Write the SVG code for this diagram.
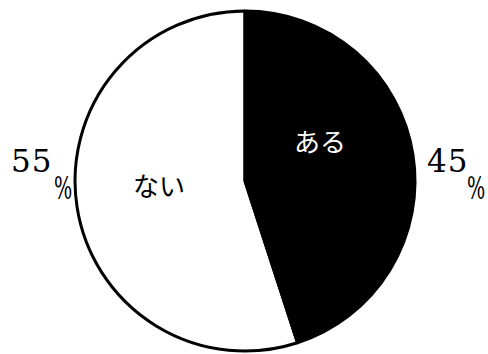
<svg xmlns="http://www.w3.org/2000/svg" width="488" height="354" viewBox="0 0 488 354">
<rect width="488" height="354" fill="#fff"/>
<g id="slice-nai">
<path d="M245,181 L245,11 A170,170 0 1 0 297.5,342.7 Z" fill="#fff" stroke="#000" stroke-width="3" stroke-linejoin="round"/>
<text x="159" y="196" text-anchor="middle" fill="#000" font-family="Noto Sans CJK JP, sans-serif" font-size="26">ない</text>
</g>
<g id="slice-aru">
<path d="M245,181 L245,11 A170,170 0 0 1 297.5,342.7 Z" fill="#000" stroke="#000" stroke-width="3" stroke-linejoin="round"/>
<text x="320" y="152" text-anchor="middle" fill="#fff" font-family="Noto Sans CJK JP, sans-serif" font-size="26">ある</text>
</g>
<g id="label-55">
<text x="11" y="172" font-family="DejaVu Serif, serif" font-size="31" letter-spacing="1">55</text>
<text x="0" y="0" font-family="DejaVu Serif, serif" font-size="32" transform="translate(54,199) scale(0.6,1)">%</text>
</g>
<g id="label-45">
<text x="427" y="172" font-family="DejaVu Serif, serif" font-size="31" letter-spacing="1">45</text>
<text x="0" y="0" font-family="DejaVu Serif, serif" font-size="32" transform="translate(467,199) scale(0.6,1)">%</text>
</g>
</svg>
